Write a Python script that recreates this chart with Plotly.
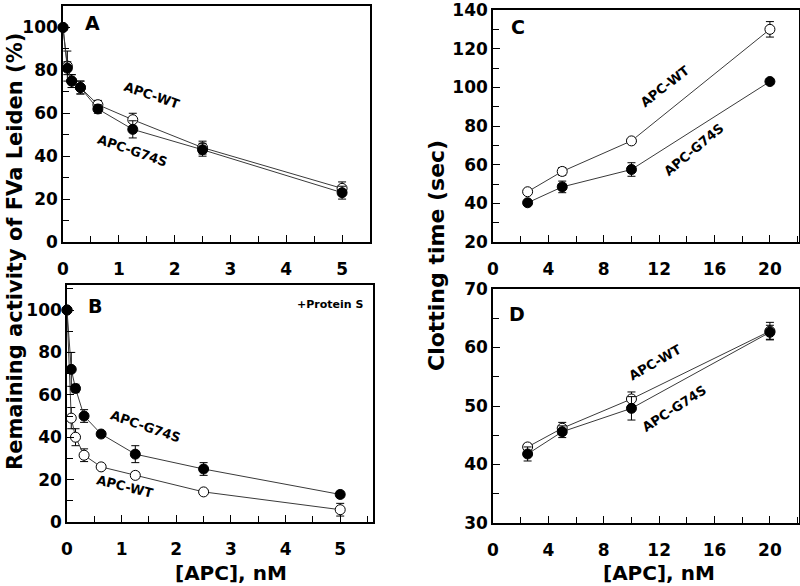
import plotly.graph_objects as go

# ---------------- data ----------------
# Panels A/B: remaining activity of FVa Leiden (%) vs [APC] nM
apc_ab = [0, 0.078, 0.156, 0.3125, 0.625, 1.25, 2.5, 5]
a_wt = [100, 82, 75, 72, 64, 57, 44, 25]
a_wt_err = [0, 7, 3, 3, 2, 3, 3, 3]
a_g74s = [100, 81, 75, 72, 62, 52.5, 43, 23]
a_g74s_err = [0, 3, 3, 3, 2, 4, 3, 3]

b_wt = [100, 49, 40, 31.5, 26, 22, 14.2, 5.8]
b_wt_err = [0, 5, 4, 3, 1, 1.5, 1, 3]
b_g74s = [100, 72, 63, 50, 41.5, 32, 25, 13]
b_g74s_err = [0, 8, 2, 3, 1, 4, 3, 1.5]

# Panels C/D: clotting time (sec) vs [APC] nM
apc_cd = [2.5, 5, 10, 20]
c_wt = [46, 56.5, 72.3, 130]
c_wt_err = [1, 2, 1, 4]
c_g74s = [40.3, 48.5, 57.5, 103]
c_g74s_err = [1, 3, 3.5, 1.5]

d_wt = [43, 46.2, 51.2, 62.8]
d_wt_err = [0.5, 1, 1.2, 1.5]
d_g74s = [41.8, 45.6, 49.6, 62.6]
d_g74s_err = [1.2, 1, 2, 1.2]

FONT = "DejaVu Sans"
line_col = "#3a3a3a"


def series(x, y, err, filled, xa, ya):
    return go.Scatter(
        x=x, y=y, mode="lines+markers", xaxis=xa, yaxis=ya,
        line=dict(color=line_col, width=1),
        marker=dict(symbol="circle", size=10,
                    color="black" if filled else "white",
                    line=dict(color="black", width=1)),
        error_y=dict(type="data", array=err, color="black",
                     thickness=1, width=4),
        showlegend=False, cliponaxis=False,
    )


fig = go.Figure()
fig.add_trace(series(apc_ab, a_wt, a_wt_err, False, "x", "y"))
fig.add_trace(series(apc_ab, a_g74s, a_g74s_err, True, "x", "y"))
fig.add_trace(series(apc_ab, b_wt, b_wt_err, False, "x2", "y2"))
fig.add_trace(series(apc_ab, b_g74s, b_g74s_err, True, "x2", "y2"))
fig.add_trace(series(apc_cd, c_wt, c_wt_err, False, "x3", "y3"))
fig.add_trace(series(apc_cd, c_g74s, c_g74s_err, True, "x3", "y3"))
fig.add_trace(series(apc_cd, d_wt, d_wt_err, False, "x4", "y4"))
fig.add_trace(series(apc_cd, d_g74s, d_g74s_err, True, "x4", "y4"))

W, H = 800, 586
tickfont = dict(family=FONT, size=17, color="black", weight="bold")


def ax(domain, rng, dtick, minor, anchor, pad):
    return dict(
        domain=domain, range=rng, anchor=anchor, automargin=False,
        showline=True, linecolor="black", linewidth=1.5, mirror=True,
        ticks="inside", ticklen=7, tickwidth=1.2, tickcolor="black",
        dtick=dtick, tick0=0,
        minor=dict(dtick=minor, ticks="inside", ticklen=6, tickwidth=1.2,
                   tickcolor="black", showgrid=False),
        showgrid=False, zeroline=False, tickfont=tickfont,
        ticklabelstandoff=pad, ticklabeloverflow="allow",
    )


def px_x(a, b):
    return [a / W, b / W]


def px_y(top, bottom):
    return [1 - bottom / H, 1 - top / H]


fig.update_layout(
    width=W, height=H, margin=dict(l=0, r=0, t=0, b=0),
    paper_bgcolor="white", plot_bgcolor="white",
    xaxis=ax(px_x(63, 370), [0, 5.5], 1, 0.5, "y", 11),
    yaxis=ax(px_y(6, 242), [0, 110], 20, 10, "x", 0),
    xaxis2=ax(px_x(67, 373), [0, 5.6], 1, 0.5, "y2", 11),
    yaxis2=ax(px_y(285, 522), [0, 111.8], 20, 10, "x2", 0),
    xaxis3=ax(px_x(493, 799), [0, 22.1], 4, 2, "y3", 11),
    yaxis3=ax(px_y(10, 242), [20, 140], 20, 10, "x3", 0),
    xaxis4=ax(px_x(493, 799), [0, 22.1], 4, 2, "y4", 11),
    yaxis4=ax(px_y(289, 523), [30, 70], 10, 5, "x4", 0),
)

lab = dict(family=FONT, size=13, color="black", weight="bold")
big = dict(family=FONT, size=19, color="black", weight="bold")
ann = [
    # panel letters
    dict(text="A", x=0.52, y=102, xref="x", yref="y", font=big),
    dict(text="B", x=0.51, y=102, xref="x2", yref="y2", font=big),
    dict(text="C", x=1.8, y=131, xref="x3", yref="y3", font=big),
    dict(text="D", x=1.7, y=65.7, xref="x4", yref="y4", font=big),
    # curve labels
    dict(text="APC-WT", x=1.6, y=68.4, xref="x", yref="y", font=lab, textangle=19),
    dict(text="APC-G74S", x=1.24, y=42.8, xref="x", yref="y", font=lab, textangle=19),
    dict(text="APC-G74S", x=1.44, y=45, xref="x2", yref="y2", font=lab, textangle=19),
    dict(text="APC-WT", x=1.06, y=16.6, xref="x2", yref="y2", font=lab, textangle=14),
    dict(text="+Protein S", x=4.82, y=102.8, xref="x2", yref="y2",
         font=dict(family=FONT, size=11, color="black", weight="bold")),
    dict(text="APC-WT", x=12.4, y=100.5, xref="x3", yref="y3", font=lab, textangle=-38),
    dict(text="APC-G74S", x=14.5, y=68, xref="x3", yref="y3", font=lab, textangle=-40),
    dict(text="APC-WT", x=11.7, y=57.5, xref="x4", yref="y4", font=lab, textangle=-30),
    dict(text="APC-G74S", x=13.1, y=49.5, xref="x4", yref="y4", font=lab, textangle=-33),
    # axis titles
    dict(text="Remaining activity of FVa Leiden (%)", x=15 / W, y=1 - 252 / H,
         xref="paper", yref="paper", textangle=-90,
         font=dict(family=FONT, size=21, color="black", weight="bold")),
    dict(text="Clotting time (sec)", x=436 / W, y=1 - 256 / H,
         xref="paper", yref="paper", textangle=-90,
         font=dict(family=FONT, size=22, color="black", weight="bold")),
    dict(text="[APC], nM", x=231 / W, y=1 - 573 / H, xref="paper", yref="paper",
         font=dict(family=FONT, size=20, color="black", weight="bold")),
    dict(text="[APC], nM", x=659 / W, y=1 - 573 / H, xref="paper", yref="paper",
         font=dict(family=FONT, size=20, color="black", weight="bold")),
]
for a in ann:
    a.setdefault("showarrow", False)
    a.setdefault("xanchor", "center")
    a.setdefault("yanchor", "middle")
fig.update_layout(annotations=ann)

fig.write_html(
    "out.html",
    config={"displayModeBar": False},
    post_script="document.body.style.margin='0';document.body.style.overflow='hidden';",
)
